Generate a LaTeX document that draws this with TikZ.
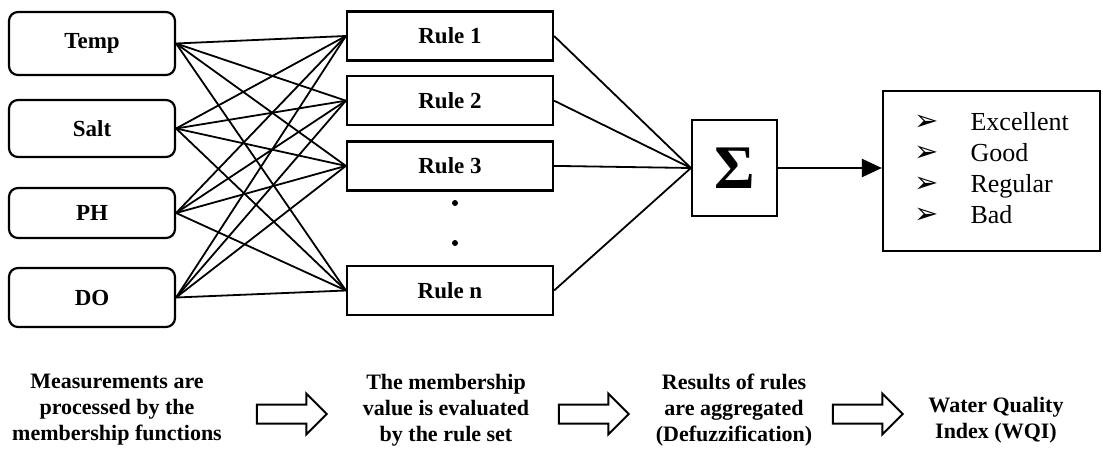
\documentclass[tikz,border=0pt]{standalone}
\usepackage{fontspec}
\setmainfont{Liberation Serif}
\newfontfamily\symfont{DejaVu Sans}
\usetikzlibrary{arrows.meta, positioning, shapes.arrows}

\begin{document}
\begin{tikzpicture}[
  x=1pt, y=-1pt,
  font=\fontsize{23}{27}\selectfont\bfseries,
  inbox/.style={rectangle, draw, line width=2.2pt, rounded corners=9pt,
                minimum width=166pt, inner sep=0pt},
  rulebox/.style={rectangle, draw, line width=2.2pt, minimum width=206pt,
                  minimum height=49pt, inner sep=0pt},
  wire/.style={line width=1.8pt},
  dot/.style={circle, fill, inner sep=0pt, minimum size=6pt},
  stage/.style={align=center, font=\fontsize{22}{26}\selectfont\bfseries},
  hollow/.style={single arrow, draw, line width=2pt, minimum height=70pt,
                 inner xsep=0pt, inner ysep=8.5pt, single arrow head extend=11pt},
]
  \useasboundingbox (0,0) rectangle (1103,452);

  % inputs
  \node[inbox, minimum height=63pt] (temp) at (92,43.5) {Temp};
  \node[inbox, minimum height=57pt] (salt) at (92,128.5) {Salt};
  \node[inbox, minimum height=50pt] (ph) at (92,213) {PH};
  \node[inbox, minimum height=59pt] (do) at (92,297.5) {DO};

  % rule set
  \node[rulebox] (r1) at (450,36) {Rule 1};
  \node[rulebox, below=13.5pt of r1] (r2) {Rule 2};
  \node[rulebox, below=14pt of r2] (r3) {Rule 3};
  \node[dot] (d1) at (455,203) {};
  \node[dot] (d2) at (455,243) {};
  \node[rulebox] (rn) at (450,290.5) {Rule n};

  % aggregation and output
  \node[rectangle, draw, line width=2.2pt, minimum width=85pt, minimum height=96pt]
    (sum) at (734.5,168) {\fontsize{62}{62}\selectfont Σ};
  \node[rectangle, draw, line width=2.2pt, minimum width=217pt, minimum height=160pt,
        font=\fontsize{26}{31}\selectfont]
    (out) at (991.5,171) {\begin{tabular}{@{}l@{\hspace{32pt}}l@{}}
      {\symfont\fontsize{29}{31}\selectfont ➢} & Excellent\\
      {\symfont\fontsize{29}{31}\selectfont ➢} & Good\\
      {\symfont\fontsize{29}{31}\selectfont ➢} & Regular\\
      {\symfont\fontsize{29}{31}\selectfont ➢} & Bad
    \end{tabular}};

  \foreach \i in {temp,salt,ph,do}
    \foreach \r in {r1,r2,r3,rn}
      \draw[wire] (\i.east) -- (\r.west);
  \foreach \r in {r1,r2,r3,rn}
    \draw[wire] (\r.east) -- (sum.west);
  \draw[line width=2.2pt, -{Triangle[length=20pt,width=18pt]}] (sum.east) -- (sum.east -| out.west);

  % process steps
  \node[stage] (s1) at (117,410) {Measurements are\\processed by the\\membership functions};
  \node[hollow] (a1) at (287,414) {};
  \node[stage] (s2) at (446,410) {The membership\\value is evaluated\\by the rule set};
  \node[hollow] (a2) at (589,414) {};
  \node[stage] (s3) at (734,410) {Results of rules\\are aggregated\\(Defuzzification)};
  \node[hollow] (a3) at (863,414) {};
  \node[stage] (s4) at (996,420) {Water Quality\\Index (WQI)};
\end{tikzpicture}
\end{document}
